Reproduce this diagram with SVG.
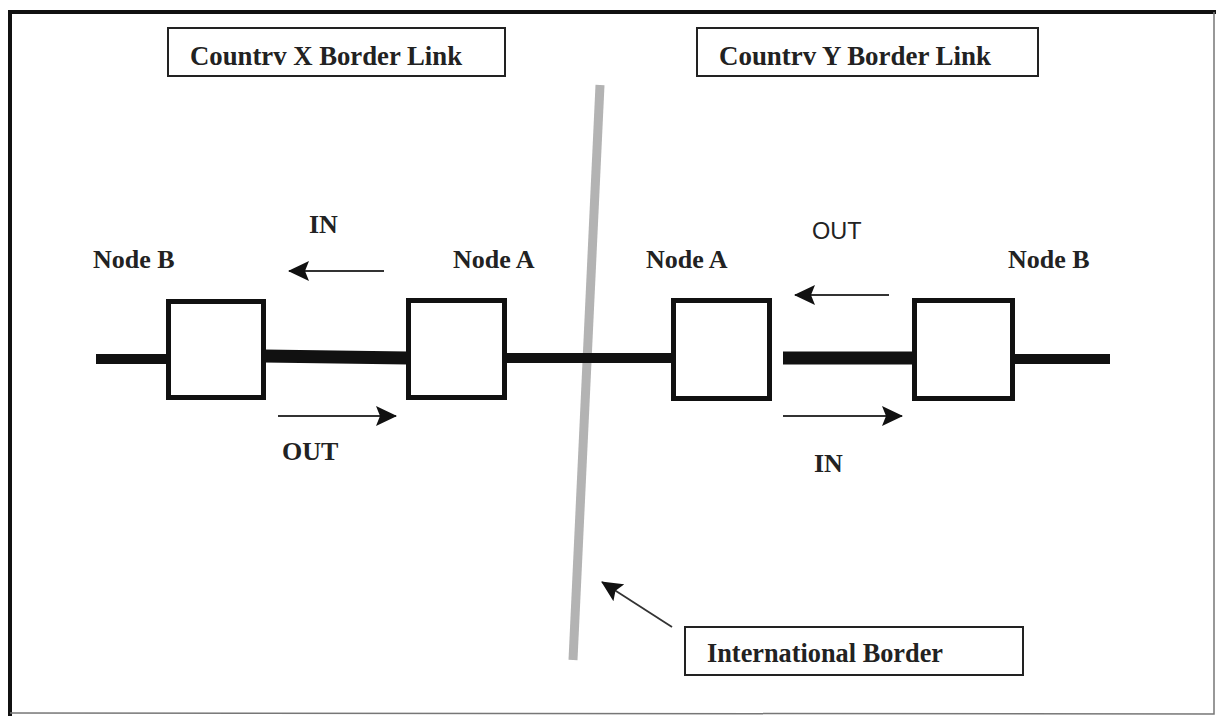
<svg xmlns="http://www.w3.org/2000/svg" width="1216" height="716" viewBox="0 0 1216 716">
<defs>
<style>
.box{fill:#fff;stroke:#222;stroke-width:2}
.node{fill:#fff;stroke:#111;stroke-width:5}
.t{font-family:"Liberation Serif",serif;font-weight:bold;fill:#222}
.s{font-family:"Liberation Sans",sans-serif;fill:#222}
.link{stroke:#111;fill:none}
.arr{stroke:#333;stroke-width:1.8;fill:none}
</style>
<marker id="ah" viewBox="0 0 21 20" refX="20" refY="10" markerWidth="21" markerHeight="20" markerUnits="userSpaceOnUse" orient="auto"><path d="M0,0 L21,10 L0,20 L4,10 Z" fill="#111"/></marker>
</defs>
<rect x="0" y="0" width="1216" height="716" fill="#fff"/>
<path d="M10,716 L10,12 L1216,12" fill="none" stroke="#111" stroke-width="4"/>
<path d="M1214,12 L1214,714 L10,713" fill="none" stroke="#777" stroke-width="1.5"/>
<line x1="600" y1="85" x2="573" y2="660" stroke="#b3b3b3" stroke-width="9"/>
<g id="connectors">
<line class="link" x1="96" y1="359" x2="168" y2="359" stroke-width="10"/>
<line class="link" x1="264" y1="356" x2="408" y2="358" stroke-width="13"/>
<line class="link" x1="504" y1="358" x2="673" y2="358" stroke-width="10"/>
<line class="link" x1="783" y1="358" x2="914" y2="358" stroke-width="13"/>
<line class="link" x1="1013" y1="359" x2="1110" y2="359" stroke-width="10"/>
<line class="arr" x1="384" y1="271" x2="289" y2="271" marker-end="url(#ah)"/>
<line class="arr" x1="278" y1="416" x2="396" y2="416" marker-end="url(#ah)"/>
<line class="arr" x1="889" y1="295" x2="795" y2="295" marker-end="url(#ah)"/>
<line class="arr" x1="783" y1="416" x2="902" y2="416" marker-end="url(#ah)"/>
<line class="arr" x1="672" y1="627" x2="602" y2="582" marker-end="url(#ah)"/>
</g>
<g id="titleX"><rect class="box" x="168" y="28" width="337" height="48"/><text class="t" x="190" y="65" font-size="27" textLength="272" lengthAdjust="spacingAndGlyphs">Countrv X Border Link</text></g>
<g id="titleY"><rect class="box" x="697" y="28" width="341" height="48"/><text class="t" x="719" y="65" font-size="27" textLength="272" lengthAdjust="spacingAndGlyphs">Countrv Y Border Link</text></g>
<g id="border-label"><rect class="box" x="685" y="627" width="338" height="48"/><text class="t" x="707" y="662" font-size="26.5" textLength="236" lengthAdjust="spacingAndGlyphs">International Border</text></g>
<g id="xNodeB"><rect class="node" x="168.5" y="301.5" width="95" height="96"/><text class="t" x="93" y="268" font-size="26">Node B</text></g>
<g id="xNodeA"><rect class="node" x="408.5" y="300.5" width="96" height="97"/><text class="t" x="453" y="268" font-size="26">Node A</text></g>
<g id="yNodeA"><rect class="node" x="673.5" y="300.5" width="96" height="98"/><text class="t" x="646" y="268" font-size="26">Node A</text></g>
<g id="yNodeB"><rect class="node" x="914.5" y="300.5" width="98" height="98"/><text class="t" x="1008" y="268" font-size="26">Node B</text></g>
<g id="labels">
<text class="t" x="309" y="233" font-size="26">IN</text>
<text class="t" x="282" y="460" font-size="26">OUT</text>
<text class="s" x="812" y="239" font-size="23.5">OUT</text>
<text class="t" x="814" y="472" font-size="26">IN</text>
</g>
</svg>
